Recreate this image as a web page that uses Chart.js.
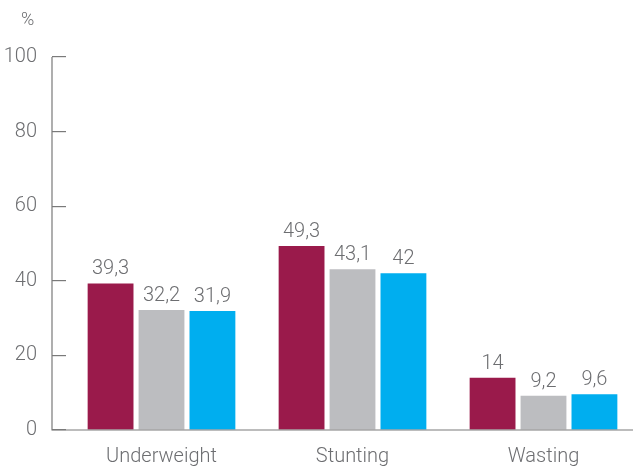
<!DOCTYPE html>
<html>
<head>
<meta charset="utf-8">
<script src="https://cdn.jsdelivr.net/npm/chart.js@4"></script>
<style>
  html, body { margin: 0; padding: 0; background: #fff; }
  #wrap { width: 633px; height: 468px; }
</style>
</head>
<body>
<div id="wrap"><canvas id="myChart"></canvas></div>
<script>
const categories = ['Underweight', 'Stunting', 'Wasting'];
const seriesA = [39.3, 49.3, 14];
const seriesB = [32.2, 43.1, 9.2];
const seriesC = [31.9, 42, 9.6];
const yTicks = [0, 20, 40, 60, 80, 100];

const textColor = '#6d6e71';
const axisColor = '#7a7a7a';
const fontFamily = 'Roboto, "Liberation Sans", sans-serif';

// let the last category run slightly past the canvas edge
const widenArea = {
    id: 'widenArea',
    afterLayout(chart) {
        let x = chart.scales.x;
        x.right = chart.width + 6;
        x.width = x.right - x.left;
        chart.chartArea.right = x.right;
        chart.chartArea.width = x.right - chart.chartArea.left;
        x.configure();
    }
};

// axis lines, value labels and the unit sign
const decorations = {
    id: 'decorations',
    afterDatasetsDraw(chart) {
        let ctx = chart.ctx;
        let area = chart.chartArea;
        let y = chart.scales.y;
        let left = area.left - 14;
        let zero = y.getPixelForValue(0);

        ctx.save();
        ctx.strokeStyle = axisColor;
        ctx.lineWidth = 1.2;
        ctx.beginPath();
        ctx.moveTo(left, y.getPixelForValue(100));
        ctx.lineTo(left, zero);
        ctx.lineTo(chart.width, zero);
        ctx.stroke();

        ctx.fillStyle = textColor;
        ctx.font = '300 20px ' + fontFamily;
        ctx.textAlign = 'center';
        ctx.textBaseline = 'bottom';
        chart.data.datasets.forEach(function (ds, i) {
            chart.getDatasetMeta(i).data.forEach(function (bar, j) {
                let label = String(ds.data[j]).replace('.', ',');
                ctx.fillText(label, bar.x, bar.y - 4);
            });
        });

        ctx.textAlign = 'left';
        ctx.textBaseline = 'middle';
        ctx.font = '300 18px ' + fontFamily;
        ctx.fillText('%', 21, 20);
        ctx.restore();
    }
};

let graph = document.getElementById('myChart').getContext('2d');

new Chart(graph, {
    type: 'bar',
    data: {
        labels: categories,
        datasets: [
            { data: seriesA, backgroundColor: '#9a1a4b' },
            { data: seriesB, backgroundColor: '#bcbdc0' },
            { data: seriesC, backgroundColor: '#00aeef' }
        ]
    },
    options: {
        responsive: true,
        maintainAspectRatio: false,
        animation: false,
        layout: { padding: { top: 57, right: 0, left: 0, bottom: 0 } },
        plugins: {
            legend: { display: false },
            tooltip: { enabled: false }
        },
        datasets: {
            bar: { categoryPercentage: 0.8, barPercentage: 0.9 }
        },
        scales: {
            x: {
                grid: { display: false, drawTicks: false },
                border: { display: false },
                ticks: {
                    color: textColor,
                    padding: 15,
                    font: { family: fontFamily, size: 20, weight: 300 }
                },
                afterFit: function (scale) { scale.height = 38; }
            },
            y: {
                min: 0,
                max: 100,
                afterBuildTicks: function (scale) {
                    scale.ticks = yTicks.map(function (v) { return { value: v }; });
                },
                grid: {
                    drawOnChartArea: false,
                    drawTicks: true,
                    tickLength: 14,
                    color: axisColor,
                    lineWidth: 1.2
                },
                border: { display: false },
                ticks: {
                    color: textColor,
                    padding: 15,
                    font: { family: fontFamily, size: 20, weight: 300 }
                },
                afterFit: function (scale) { scale.width = 66; }
            }
        }
    },
    plugins: [widenArea, decorations]
});
</script>
</body>
</html>
